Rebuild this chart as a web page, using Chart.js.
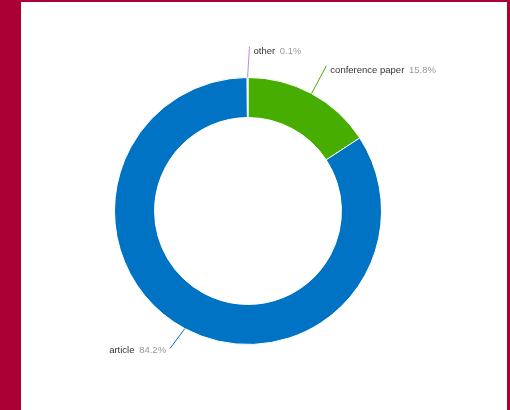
<!DOCTYPE html>
<html lang="en">
<head>
    <meta charset="UTF-8">
    <title>Document types</title>
    <script src="https://cdn.jsdelivr.net/npm/chart.js@4"></script>
    <style>
        html, body { margin: 0; padding: 0; }
        body { width: 510px; height: 410px; background: #aa0034; position: relative; overflow: hidden; }
        #panel { position: absolute; left: 21px; top: 2px; width: 486px; height: 408px; background: #fff; }
        #wrap { position: absolute; left: 0; top: 0; width: 510px; height: 410px; }
    </style>
</head>
<body>
    <div id="panel"></div>
    <div id="wrap">
        <canvas id="myChart" width="510" height="410"></canvas>
    </div>

    <script>
        // share of publications by type (%)
        var labels = ['conference paper', 'article', 'other'];
        var values = [15.8, 84.2, 0.1];
        var colors = ['#47ad00', '#0073c4', '#b58ce0'];

        // leader lines + "name  value%" labels, highcharts style
        var sliceLabels = {
            id: 'sliceLabels',
            afterDraw: function (chart) {
                var ctx = chart.ctx;
                var arcs = chart.getDatasetMeta(0).data;
                ctx.save();
                ctx.font = '9.5px "Liberation Sans", Arial, sans-serif';
                ctx.textBaseline = 'middle';
                arcs.forEach(function (arc, i) {
                    var p = arc.getProps(['x', 'y', 'startAngle', 'endAngle', 'outerRadius']);
                    var a = (p.startAngle + p.endAngle) / 2;
                    var r0 = p.outerRadius;
                    var r1 = r0 + 27;
                    var x0 = p.x + r0 * Math.cos(a), y0 = p.y + r0 * Math.sin(a);
                    var x1 = p.x + r1 * Math.cos(a), y1 = p.y + r1 * Math.sin(a);
                    var right = Math.cos(a) > -0.02;

                    ctx.strokeStyle = colors[i];
                    ctx.lineWidth = 1;
                    ctx.beginPath();
                    ctx.moveTo(x0, y0);
                    ctx.lineTo(x1 + (right ? 2 : -2), y1 - 4);
                    ctx.stroke();

                    var name = labels[i];
                    var val = values[i].toFixed(1) + '%';
                    var wName = ctx.measureText(name + ' ').width + 2;
                    var wVal = ctx.measureText(val).width;
                    var tx = right ? x1 + 6 : x1 - 6 - wName - wVal;
                    var ty = right ? y1 + 1 : y1 - 2;
                    ctx.textAlign = 'left';
                    ctx.fillStyle = '#333';
                    ctx.fillText(name, tx, ty);
                    ctx.fillStyle = '#999';
                    ctx.fillText(val, tx + wName, ty);
                });
                ctx.restore();
            }
        };

        var ctx = document.getElementById('myChart').getContext('2d');
        var myChart = new Chart(ctx, {
            type: 'doughnut',
            data: {
                labels: labels,
                datasets: [{
                    data: values,
                    backgroundColor: colors,
                    borderColor: '#ffffff',
                    borderWidth: 1
                }]
            },
            options: {
                responsive: false,
                animation: false,
                cutout: '70%',
                layout: { padding: { left: 114, right: 128, top: 77, bottom: 65 } },
                plugins: {
                    legend: { display: false },
                    tooltip: { enabled: false }
                }
            },
            plugins: [sliceLabels]
        });
    </script>
</body>
</html>
